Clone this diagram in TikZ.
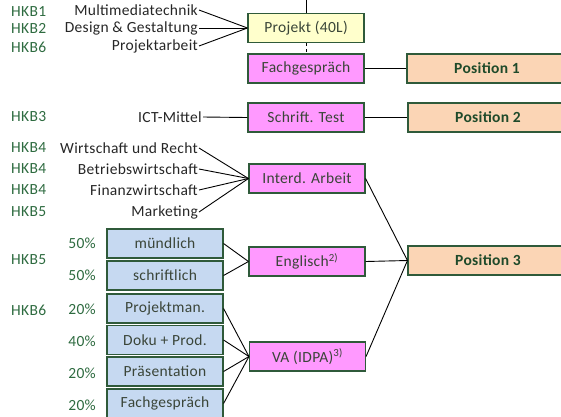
\documentclass[tikz,border=0pt]{standalone}
\usepackage{fontspec}
\setmainfont[LetterSpace=2]{Carlito}
\definecolor{hkbgreen}{HTML}{2E6B40}
\definecolor{boxborder}{HTML}{2F5A3A}
\definecolor{boxtext}{HTML}{3A4538}
\definecolor{postext}{HTML}{1F4A2A}
\definecolor{yellowfill}{HTML}{FFFFCC}
\definecolor{magentafill}{HTML}{FF99FF}
\definecolor{peachfill}{HTML}{FBD5B5}
\definecolor{bluefill}{HTML}{C6D9F1}
\begin{document}
\begin{tikzpicture}[x=1pt,y=-1pt,
  basefont/.style={font=\fontsize{15.5}{17}\selectfont},
  box/.style={basefont, draw=boxborder, line width=1.1pt, minimum width=116pt, minimum height=29pt, inner sep=0pt, text=boxtext},
  yellowbox/.style={box, fill=yellowfill},
  magbox/.style={box, fill=magentafill},
  bluebox/.style={box, fill=bluefill},
  posbox/.style={box, fill=peachfill, minimum width=160pt, text=postext, font=\fontsize{15.5}{17}\selectfont\bfseries},
  lbl/.style={basefont, anchor=east, inner sep=1pt, text=black!85},
  hkb/.style={basefont, anchor=west, inner sep=0pt, text=hkbgreen},
  pct/.style={basefont, anchor=east, inner sep=0pt, text=hkbgreen},
  conn/.style={draw=black, line width=0.9pt}
]
\useasboundingbox (0,0) rectangle (561,416);
\clip (0,0) rectangle (561,416);

% boxes
\node[yellowbox] (proj) at (306,28) {Projekt (40L)};
\node[magbox] (fach) at (306,68.5) {Fachgespräch};
\node[posbox] (pos1) at (487,68.5) {Position 1};
\node[magbox] (test) at (306,117.5) {Schrift. Test};
\node[posbox] (pos2) at (488,117.5) {Position 2};
\node[magbox] (interd) at (307,178.5) {Interd. Arbeit};
\node[magbox] (engl) at (307,261.5) {Englisch\textsuperscript{2)}};
\node[posbox] (pos3) at (488,260.5) {Position 3};
\node[magbox] (va) at (307.5,356.5) {VA (IDPA)\textsuperscript{3)}};

\node[bluebox] (mund) at (165,243.5) {mündlich};
\node[bluebox] (schr) at (165,275.5) {schriftlich};
\node[bluebox] (pm) at (165,308.5) {Projektman.};
\node[bluebox] (doku) at (165,340) {Doku + Prod.};
\node[bluebox] (praes) at (165,371.5) {Präsentation};
\node[bluebox] (fg) at (165,403.5) {Fachgespräch};

% text labels
\node[lbl] (mm) at (199,10) {Multimediatechnik};
\node[lbl] (dg) at (199,28) {Design \& Gestaltung};
\node[lbl] (pa) at (199,46) {Projektarbeit};
\node[lbl] (ict) at (203,117) {ICT-Mittel};
\node[lbl] (wr) at (199,148) {Wirtschaft und Recht};
\node[lbl] (bw) at (199,169) {Betriebswirtschaft};
\node[lbl] (fw) at (199,190) {Finanzwirtschaft};
\node[lbl] (mk) at (199,212) {Marketing};

% HKB labels
\node[hkb] (h1) at (11,12) {HKB1};
\node[hkb] (h2) at (11,28) {HKB2};
\node[hkb] (h3) at (11,47) {HKB6};
\node[hkb] (h4) at (11,117) {HKB3};
\node[hkb] (h5) at (11,148) {HKB4};
\node[hkb] (h6) at (11,169) {HKB4};
\node[hkb] (h7) at (11,190) {HKB4};
\node[hkb] (h8) at (11,212) {HKB5};
\node[hkb] (h9) at (11,260) {HKB5};
\node[hkb] (h10) at (11,310) {HKB6};

% percentages
\node[pct] (p1) at (96,243) {50\%};
\node[pct] (p2) at (96,275) {50\%};
\node[pct] (p3) at (96,309) {20\%};
\node[pct] (p4) at (96,341) {40\%};
\node[pct] (p5) at (96,373) {20\%};
\node[pct] (p6) at (96,405) {20\%};

% connectors
\coordinate (top) at (306,-5);
\draw[conn] (top) -- (proj.north);
\draw[conn, dashed, dash pattern=on 3pt off 3pt] (proj.south) -- (fach.north);
\draw[conn] (mm.east) -- (proj.west);
\draw[conn] (dg.east) -- (proj.west);
\draw[conn] (pa.east) -- (proj.west);
\draw[conn] (fach.east) -- (pos1.west);
\draw[conn] (ict.east) -- (test.west);
\draw[conn] (test.east) -- (pos2.west);
\draw[conn] (wr.east) -- (interd.west);
\draw[conn] (bw.east) -- (interd.west);
\draw[conn] (fw.east) -- (interd.west);
\draw[conn] (mk.east) -- (interd.west);
\draw[conn] (mund.east) -- (engl.west);
\draw[conn] (schr.east) -- (engl.west);
\draw[conn] (pm.east) -- (va.west);
\draw[conn] (doku.east) -- (va.west);
\draw[conn] (praes.east) -- (va.west);
\draw[conn] (fg.east) -- (va.west);
\draw[conn] (interd.east) -- (pos3.west);
\draw[conn] (engl.east) -- (pos3.west);
\draw[conn] (va.east) -- (pos3.west);
\end{tikzpicture}
\end{document}
